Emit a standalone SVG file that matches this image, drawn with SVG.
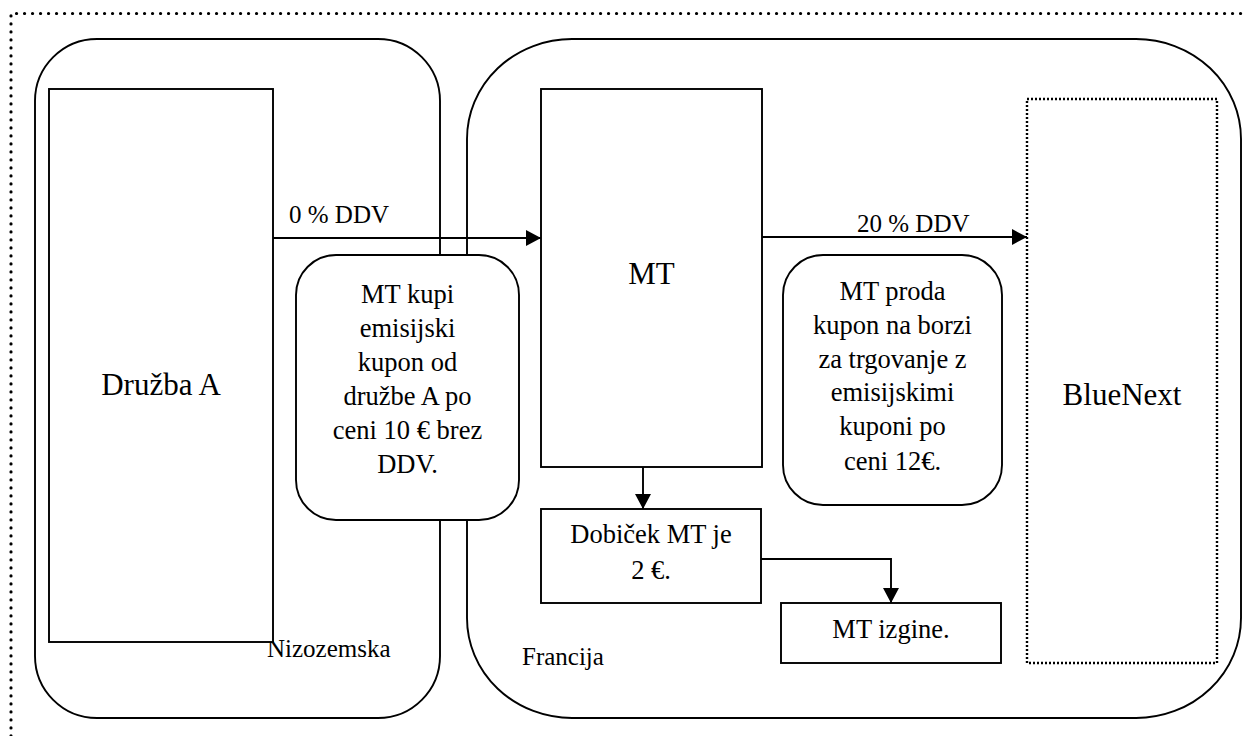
<svg xmlns="http://www.w3.org/2000/svg" width="1245" height="736" viewBox="0 0 1245 736">
<defs>
<style>
.ln{fill:none;stroke:#000;stroke-width:1.9}
.bx{fill:#fff;stroke:#000;stroke-width:1.9}
.t{font-family:'Liberation Serif','DejaVu Serif','Times New Roman',serif;fill:#000}
.big{font-size:31px;text-anchor:middle}
.mid{font-size:26.5px;text-anchor:middle}
.lab{font-size:25px}
</style>
<marker id="ah" viewBox="0 0 15 16" refX="15" refY="8" markerWidth="15" markerHeight="16" markerUnits="userSpaceOnUse" orient="auto">
<path d="M0,0 L15,8 L0,16 Z" fill="#000"/>
</marker>
</defs>
<rect width="1245" height="736" fill="#fff"/>
<path d="M11,736 L11,13.5 L1245,13.5" fill="none" stroke="#000" stroke-width="3.2" stroke-linecap="round" stroke-dasharray="0.1 7.9"/>

<g id="nizozemska">
<rect x="35" y="39" width="405" height="679" rx="62" ry="62" class="ln"/>
<text class="t lab" x="267" y="657">Nizozemska</text>
</g>
<g id="francija">
<rect x="467" y="39" width="774" height="679" rx="105" ry="100" class="ln"/>
<text class="t lab" x="522" y="665">Francija</text>
</g>
<g id="druzba-a">
<rect x="49" y="89" width="224" height="553" class="bx"/>
<text class="t big" x="161" y="395">Družba A</text>
</g>
<g id="mt">
<rect x="541" y="89" width="221" height="378" class="bx"/>
<text class="t big" x="651.5" y="284">MT</text>
</g>
<g id="bluenext">
<rect x="1027" y="99" width="190" height="564" fill="#fff" stroke="#000" stroke-width="2.4" stroke-dasharray="2 2"/>
<text class="t big" x="1122" y="405">BlueNext</text>
</g>
<g id="note-kupi">
<rect x="296" y="255" width="223" height="265" rx="40" ry="40" class="bx"/>
<text class="t mid" x="407.5" y="303">MT kupi</text>
<text class="t mid" x="407.5" y="337">emisijski</text>
<text class="t mid" x="407.5" y="371">kupon od</text>
<text class="t mid" x="407.5" y="405">družbe A po</text>
<text class="t mid" x="407.5" y="439">ceni 10 € brez</text>
<text class="t mid" x="407.5" y="473">DDV.</text>
</g>
<g id="note-proda">
<rect x="783" y="255" width="219" height="250" rx="40" ry="40" class="bx"/>
<text class="t mid" x="892.5" y="300">MT proda</text>
<text class="t mid" x="892.5" y="334">kupon na borzi</text>
<text class="t mid" x="892.5" y="368">za trgovanje z</text>
<text class="t mid" x="892.5" y="401">emisijskimi</text>
<text class="t mid" x="892.5" y="435">kuponi po</text>
<text class="t mid" x="892.5" y="470">ceni 12€.</text>
</g>
<g id="dobicek">
<rect x="541" y="509" width="220" height="94" class="bx"/>
<text class="t mid" x="651" y="543">Dobiček MT je</text>
<text class="t mid" x="651" y="579">2 €.</text>
</g>
<g id="izgine">
<rect x="781" y="603" width="220" height="60" class="bx"/>
<text class="t mid" x="891" y="638">MT izgine.</text>
</g>
<g id="connectors">
<line x1="273" y1="238" x2="541" y2="238" class="ln" marker-end="url(#ah)"/>
<text class="t lab" x="289" y="223">0 % DDV</text>
<line x1="762" y1="237" x2="1027" y2="237" class="ln" marker-end="url(#ah)"/>
<text class="t lab" x="857" y="232">20 % DDV</text>
<line x1="643" y1="467" x2="643" y2="509" class="ln" marker-end="url(#ah)"/>
<polyline points="761,559 891,559 891,603" class="ln" marker-end="url(#ah)"/>
</g>
</svg>
